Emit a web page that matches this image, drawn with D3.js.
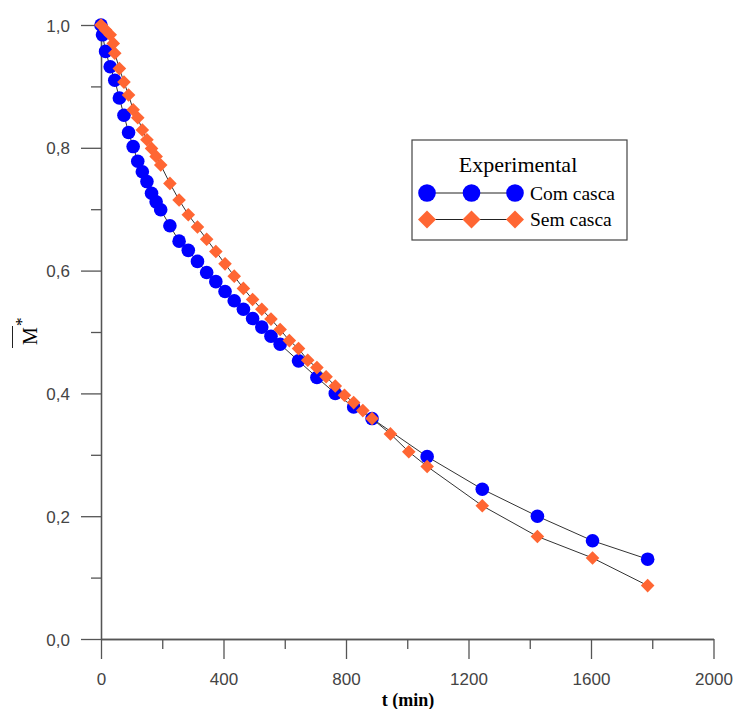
<!DOCTYPE html>
<html>
<head>
  <meta charset="utf-8">
  <title>Secagem - M* vs t</title>
  <script src="https://cdn.jsdelivr.net/npm/d3@7"></script>
  <style>
    body { margin: 0; background: #fff; }
  </style>
</head>
<body>
<div id="container"></div>
<script>
    // data
    var comT = [0, 5, 15, 30, 45, 60, 75, 90, 105, 120, 135, 150, 165, 180, 195,
                225, 255, 285, 315, 345, 375, 405, 435, 465, 495, 525, 555, 585,
                645, 705, 765, 825, 885, 1065, 1245, 1425, 1605, 1785];
    var comM = [1.0, 0.984, 0.957, 0.932, 0.910, 0.881, 0.853, 0.825, 0.802, 0.778, 0.761, 0.745, 0.726, 0.712, 0.699,
                0.673, 0.648, 0.633, 0.615, 0.597, 0.582, 0.566, 0.551, 0.537, 0.522, 0.508, 0.493, 0.480,
                0.453, 0.426, 0.400, 0.378, 0.359, 0.297, 0.244, 0.200, 0.160, 0.130];

    var semT = [0, 15, 30, 40, 45, 60, 75, 90, 105, 120, 135, 150, 165, 180, 195,
                225, 255, 285, 315, 345, 375, 405, 435, 465, 495, 525, 555, 585, 615, 645,
                675, 705, 735, 765, 795, 825, 855, 885, 945, 1005, 1065, 1245, 1425, 1605, 1785];
    var semM = [1.0, 0.992, 0.984, 0.970, 0.954, 0.929, 0.907, 0.886, 0.862, 0.849, 0.829, 0.813, 0.799, 0.786, 0.772,
                0.742, 0.715, 0.691, 0.671, 0.651, 0.631, 0.611, 0.591, 0.571, 0.553, 0.537, 0.521, 0.504, 0.486, 0.473,
                0.454, 0.442, 0.427, 0.412, 0.397, 0.385, 0.372, 0.359, 0.334, 0.305, 0.281, 0.217, 0.167, 0.132, 0.087];

    var xMajor = [0, 400, 800, 1200, 1600, 2000];
    var xMinor = [200, 600, 1000, 1400, 1800];
    var yMajor = [0, 0.2, 0.4, 0.6, 0.8, 1.0];
    var yMinor = [0.1, 0.3, 0.5, 0.7, 0.9];

    var seriesNames = ["Com casca", "Sem casca"];
    var blue = "#0000ff", orange = "#ff6633";

    var svg = d3.select("#container").append("svg")
        .attr("width", 735).attr("height", 709);

    var x = d3.scaleLinear().domain([0, 2000]).range([101, 713.5]);
    var y = d3.scaleLinear().domain([0, 1]).range([639, 25]);

    var fmt = function(d){ return d3.format(".1f")(d).replace(".", ","); };

    // axes
    var gx = svg.append("g").attr("transform", "translate(0," + y(0) + ")");
    gx.call(d3.axisBottom(x).tickValues(xMajor).tickSize(20).tickSizeOuter(0).tickPadding(14).tickFormat(d3.format("d")));
    var gxm = svg.append("g").attr("transform", "translate(0," + y(0) + ")");
    gxm.call(d3.axisBottom(x).tickValues(xMinor).tickSize(10).tickSizeOuter(0).tickFormat(""));

    var gy = svg.append("g").attr("transform", "translate(" + x(0) + ",0)");
    gy.call(d3.axisLeft(y).tickValues(yMajor).tickSize(20).tickSizeOuter(0).tickPadding(11).tickFormat(fmt));
    var gym = svg.append("g").attr("transform", "translate(" + x(0) + ",0)");
    gym.call(d3.axisLeft(y).tickValues(yMinor).tickSize(10).tickSizeOuter(0).tickFormat(""));

    svg.selectAll(".domain, .tick line").attr("stroke", "#555").attr("stroke-width", 1.3);
    svg.selectAll(".tick text")
        .attr("fill", "#444")
        .style("font-family", "'Liberation Sans', Arial, sans-serif")
        .style("font-size", "17px");
    gy.selectAll(".tick text").attr("dy", "0.36em");

    // axis titles
    svg.append("text").attr("x", 408).attr("y", 706)
        .attr("text-anchor", "middle")
        .style("font-family", "'Liberation Serif', 'Times New Roman', serif")
        .style("font-weight", "bold").style("font-size", "18px")
        .text("t (min)");

    var yt = svg.append("g").attr("transform", "translate(37,336) rotate(-90)");
    yt.append("text").attr("x", 0).attr("y", 0).attr("text-anchor", "middle")
        .style("font-family", "'Liberation Serif', 'Times New Roman', serif")
        .style("font-size", "20px").text("M");
    yt.append("text").attr("x", 10).attr("y", -10)
        .style("font-family", "'Liberation Serif', 'Times New Roman', serif")
        .style("font-size", "17px").text("*");
    yt.append("line").attr("x1", -12).attr("x2", 10).attr("y1", -24.5).attr("y2", -24.5)
        .attr("stroke", "#222").attr("stroke-width", 1);

    function diamond(r){
        return "M0," + (-r) + "L" + r + ",0L0," + r + "L" + (-r) + ",0Z";
    }

    var line = d3.line().x(function(d){ return x(d[0]); }).y(function(d){ return y(d[1]); });

    var comData = d3.zip(comT, comM);
    var semData = d3.zip(semT, semM);

    // Com casca
    svg.append("path").datum(comData).attr("d", line)
        .attr("fill", "none").attr("stroke", "#333").attr("stroke-width", 1);
    svg.append("g").selectAll("circle").data(comData).enter().append("circle")
        .attr("cx", function(d){ return x(d[0]); })
        .attr("cy", function(d){ return y(d[1]); })
        .attr("r", 6.8).attr("fill", blue);

    // Sem casca
    svg.append("path").datum(semData).attr("d", line)
        .attr("fill", "none").attr("stroke", "#333").attr("stroke-width", 1);
    svg.append("g").selectAll("path").data(semData).enter().append("path")
        .attr("d", diamond(6.8))
        .attr("transform", function(d){ return "translate(" + x(d[0]) + "," + y(d[1]) + ")"; })
        .attr("fill", orange);

    // legend
    var legend = svg.append("g");
    legend.append("rect").attr("x", 412).attr("y", 140).attr("width", 215).attr("height", 100)
        .attr("fill", "#fff").attr("stroke", "#444").attr("stroke-width", 1.2);
    legend.append("text").attr("x", 518).attr("y", 171.5).attr("text-anchor", "middle")
        .style("font-family", "'Liberation Serif', 'Times New Roman', serif")
        .style("font-size", "22px").text("Experimental");

    var rows = [193, 219.5];
    var mx = [427, 471.5, 515];
    rows.forEach(function(ry, i){
        legend.append("line").attr("x1", mx[0]).attr("x2", mx[2]).attr("y1", ry).attr("y2", ry)
            .attr("stroke", "#222").attr("stroke-width", 1);
        mx.forEach(function(px){
            if (i === 0) {
                legend.append("circle").attr("cx", px).attr("cy", ry).attr("r", 8.8).attr("fill", blue);
            } else {
                legend.append("path").attr("d", diamond(9)).attr("transform", "translate(" + px + "," + ry + ")")
                    .attr("fill", orange);
            }
        });
        legend.append("text").attr("x", 530).attr("y", ry + 6.5)
            .style("font-family", "'Liberation Serif', 'Times New Roman', serif")
            .style("font-size", "19.5px").text(seriesNames[i]);
    });
</script>
</body>
</html>
